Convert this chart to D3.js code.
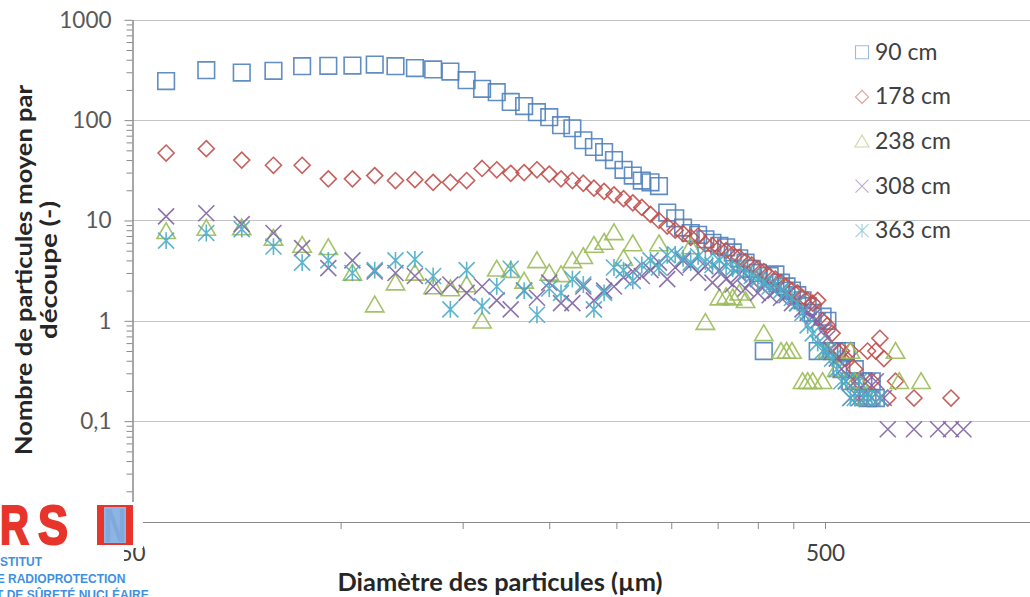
<!DOCTYPE html>
<html><head><meta charset="utf-8">
<script src="https://cdn.jsdelivr.net/npm/d3@7"></script>
<style>
body{margin:0;background:#fff;}
svg{display:block;}
text{font-family:Lato,"Open Sans",sans-serif;}
</style></head><body>
<svg id="chart" width="1030" height="597"></svg>
<script>
// ---- data ----
const diameters = [56,64,72,80,88,96,104,112,120,128,136,144,152,160,168,176,184,192,200,208,216,224,232,240,248,256,264,272,280,288,296,304,312,320,328,336,344,352,360,368,376,384,392,400,408,416,424,432,440,448,456,464,472,480,488,496,504,512,520,528,536,544,552,560,568,576,584,592,600,608,616,624,632,640,648,656,664,672,680,688,696,704,712,720,728,736,744,752,760,768,776,784,792,800];
const seriesNames = ["90 cm","178 cm","238 cm","308 cm","363 cm"];
const s90 = [245,315,298,310,345,348,350,358,345,330, 320,305,250,205,190,152,138,120,107,89, 83,63,54,48,40,32,28,25,24,22, 12,10.5,8.5,7.5,7.2,6.5,6,5.6,5.4,4.8, 4.2,3.8,3.3,3,0.5,2.8,2.9,2.4,2.2,2, 1.8,1.6,1.4,1.2,0.5,1.1,1.0,0.5,0.5,0.33, 0.5,0.25,0.33,null,0.25,0.17,0.25,0.17,null,null, null,null,null,null,null,null,null,null,null,null, null,null,null,null,null,null,null,null,null,null, null,null,null,null];
const s178 = [47,52,40,35.5,35.5,26,26,28,25,25.5, 24,24,25,33,32,29.5,30,32,29,26, 25,23.5,21,19.5,18,16.5,15,13.5,11.5,10, 8.8,8,7.4,6.8,7,5.8,5.6,5.3,5,4.6, 4.3,3.9,3.6,3.3,3.1,2.8,2.6,2.4,2.2,2, 1.9,1.7,1.6,1.5,1.6,1.0,0.9,0.75,0.5,0.5, 0.42,0.5,0.33,0.25,0.17,0.5,0.25,0.5,0.67,0.42, 0.17,null,0.25,null,null,null,null,0.17,null,null, null,null,null,null,null,null,null,null,0.17,null, null,null,null,null];
const s238 = [7.8,8.4,8.5,6.7,5.7,5.4,3.0,1.45,2.4,3.0, 2.2,2.1,2.3,1.0,3.3,3.2,2.5,4.0,3.0,2.9, 4.0,4.4,5.7,6.1,7.6,4.2,5.9,null,null,5.9, null,null,null,5.5,null,0.97,null,1.7,1.75,1.7, 1.9,1.6,null,null,0.75,null,null,0.5,0.5,0.5, null,0.25,0.25,0.25,null,0.25,0.5,null,0.33,null, null,0.5,0.25,0.25,null,0.17,null,null,null,null, null,null,0.5,0.25,null,null,null,null,null,0.25, null,null,null,null,null,null,null,null,null,null, null,null,null,null];
const s308 = [11,11.8,9.2,7.5,5.3,3.35,4.0,3.1,3.0,2.8, 2.2,2.3,1.9,2.2,1.6,1.3,2.0,1.7,2.4,1.5, 1.5,2.2,1.6,2.0,2.2,2.7,3.1,2.8,3.2,3.8, 2.6,3.4,4.0,3.6,3.0,3.5,2.4,3.2,2.6,2.3, 2.9,2.1,2.5,1.9,2.3,1.8,2.0,1.7,1.8,1.5, 1.5,1.3,1.2,1.1,1.0,0.8,0.67,0.5,0.42,0.33, 0.25,0.17,0.25,0.17,0.17,0.25,0.17,0.25,0.17,0.17, 0.083,null,null,null,null,null,null,0.083,null,null, null,null,null,null,0.083,null,null,null,0.083,null, null,null,0.083,null];
const s363 = [6.3,7.5,8.2,5.5,3.8,4.0,3.0,3.2,4.0,4.1, 2.8,1.3,3.2,1.4,2.2,3.3,2.0,1.15,2.1,1.9, 2.6,2.3,1.3,1.9,3.4,3.2,2.5,3.6,4.0,3.4, 4.5,4.6,4.2,3.8,4.4,3.9,3.6,4.0,3.5,3.3, 3.4,3.0,2.8,2.6,2.4,2.2,2.3,2.0,1.9,1.7, 1.5,1.2,0.9,0.75,0.6,0.5,0.5,0.42,0.33,0.25, 0.25,0.17,0.17,0.25,0.17,0.17,0.17,null,0.17,null, null,null,null,null,null,null,null,null,null,null, null,null,null,null,null,null,null,null,null,null, null,null,null,null];
const yTickValues = [0.01,0.1,1,10,100,1000];
const xTickValues = [50,100,150,200,250,300,350,400,450,500,1000];
const xLabelled = [50,500];

// ---- setup ----
const svg = d3.select("#chart");
const x = d3.scaleLog().domain([50,5000]).range([132,1518]);
const y = d3.scaleLog().domain([0.01,1000]).range([521.5,19.8]);
const W = 1030;
const colors = ["#4f81bd","#c0504d","#9bbb59","#8064a2","#4bacc6"];
const shapes = ["square","diamond","triangle","x","star"];
const allSeries = [s90,s178,s238,s308,s363];

function shapePath(kind, r){
  switch(kind){
    case "square": return `M${-r},${-r}h${2*r}v${2*r}h${-2*r}Z`;
    case "diamond": return `M0,${-r}L${r},0L0,${r}L${-r},0Z`;
    case "triangle": return `M0,${-r}L${r*1.08},${r*0.85}L${-r*1.08},${r*0.85}Z`;
    case "x": return `M${-r},${-r}L${r},${r}M${-r},${r}L${r},${-r}`;
    case "star": return `M${-r},${-r}L${r},${r}M${-r},${r}L${r},${-r}M0,${-r*1.05}L0,${r*1.05}`;
  }
}
const sizes = {square:8.3, diamond:8, triangle:8.5, x:8, star:8};

// gridlines
svg.append("g").selectAll("line").data([0.1,1,10,100,1000]).join("line")
  .attr("x1",132).attr("x2",W).attr("y1",d=>Math.round(y(d))+0.5).attr("y2",d=>Math.round(y(d))+0.5)
  .attr("stroke","#c4c4c4").attr("stroke-width",1.2);

// y minor ticks
const yMinor = [];
[0.01,0.1,1,10,100].forEach(b=>{for(let k=2;k<10;k++) yMinor.push(b*k);});
const fmt = d => d < 1 ? String(d).replace(".",",") : String(d);
const gyMinor = svg.append("g").attr("transform","translate(132.5,0)")
  .call(d3.axisLeft(y).tickValues(yMinor).tickSize(6).tickSizeOuter(0).tickFormat(""));
const gy = svg.append("g").attr("transform","translate(132.5,0)")
  .call(d3.axisLeft(y).tickValues(yTickValues).tickSize(8).tickSizeOuter(0).tickPadding(13).tickFormat(fmt));
[gyMinor,gy].forEach(g=>{g.selectAll("line").attr("stroke","#8a8a8a");g.select(".domain").attr("stroke","#8a8a8a");});
gy.selectAll("text").attr("font-size",22.5).attr("fill","#595959").style("font-family","Lato");

const gx = svg.append("g").attr("transform","translate(0,522)")
  .call(d3.axisBottom(x).tickValues(xTickValues).tickSize(7).tickSizeOuter(0).tickPadding(16)
    .tickFormat(d => xLabelled.includes(d) ? String(d) : ""));
gx.selectAll("line").attr("stroke","#8a8a8a");
gx.select(".domain").attr("stroke","#8a8a8a");
gx.selectAll("text").attr("font-size",22.5).attr("fill","#404040").style("font-family","Lato");

// data points
allSeries.forEach((vals,si)=>{
  const pts = diameters.map((d,i)=>({d, v: vals[i]})).filter(p=>p.v!=null && p.v>0);
  svg.append("g").selectAll("path").data(pts).join("path")
    .attr("transform",p=>`translate(${x(p.d)},${y(p.v)})`)
    .attr("d",shapePath(shapes[si],sizes[shapes[si]]))
    .attr("fill","none").attr("stroke",colors[si]).attr("stroke-width",1.6)
    .attr("stroke-opacity",0.9);
});

// legend
const legend = svg.append("g");
seriesNames.forEach((name,i)=>{
  const cy = 52.3 + i*44.6;
  legend.append("path").attr("transform",`translate(862,${cy})`)
    .attr("d",shapePath(shapes[i],6.5))
    .attr("fill","none").attr("stroke",colors[i]).attr("stroke-width",1.1).attr("stroke-opacity",0.55);
  legend.append("text").attr("x",875).attr("y",cy+7.5).attr("font-size",23).attr("fill","#404040").text(name);
});

// axis titles
svg.append("text").attr("x",500).attr("y",591).attr("text-anchor","middle")
  .attr("font-size",24).attr("font-weight","bold").attr("fill","#262626")
  .attr("textLength",325).attr("lengthAdjust","spacingAndGlyphs").text("Diamètre des particules (µm)");
const yt = svg.append("g");
yt.append("text").attr("transform","translate(32,270) rotate(-90)").attr("text-anchor","middle")
  .attr("font-size",23).attr("font-weight","bold").attr("fill","#262626")
  .attr("textLength",370).attr("lengthAdjust","spacingAndGlyphs").text("Nombre de particules moyen par");
yt.append("text").attr("transform","translate(57,270) rotate(-90)").attr("text-anchor","middle")
  .attr("font-size",23).attr("font-weight","bold").attr("fill","#262626")
  .attr("textLength",138).attr("lengthAdjust","spacingAndGlyphs").text("découpe (-)");

// logo (IRSN)
const logo = svg.append("g");
logo.append("rect").attr("x",0).attr("y",502).attr("width",143).attr("height",46).attr("fill","#fff");
logo.append("rect").attr("x",0).attr("y",548).attr("width",124).attr("height",49).attr("fill","#fff");
const lf = "Liberation Sans";
const red = "#e8352b";
[["R",0,29],["S",38,30]].forEach(([t,xx,w])=>{
  logo.append("text").attr("x",xx).attr("y",544).attr("font-size",55).attr("font-weight","bold").style("font-family",lf)
    .attr("fill",red).attr("stroke",red).attr("stroke-width",2.2)
    .attr("textLength",w).attr("lengthAdjust","spacingAndGlyphs").text(t);
});
logo.append("rect").attr("x",97).attr("y",505).attr("width",36).attr("height",40).attr("fill",red);
logo.append("rect").attr("x",104).attr("y",507).attr("width",22).attr("height",36).attr("fill","#8db4e2");
logo.append("text").attr("x",104).attr("y",542).attr("font-size",48).attr("font-weight","bold").style("font-family",lf)
  .attr("fill","#7fa8dc").attr("textLength",22).attr("lengthAdjust","spacingAndGlyphs").text("N");
const blue = "#3f90e0";
[["INSTITUT",566],["DE RADIOPROTECTION",583],["ET DE SÛRETÉ NUCLÉAIRE",599]].forEach(([t,yy])=>{
  logo.append("text").attr("x",-12).attr("y",yy).attr("font-size",12).attr("font-weight","bold")
    .style("font-family",lf).attr("fill",blue).text(t);
});
</script>
</body></html>
